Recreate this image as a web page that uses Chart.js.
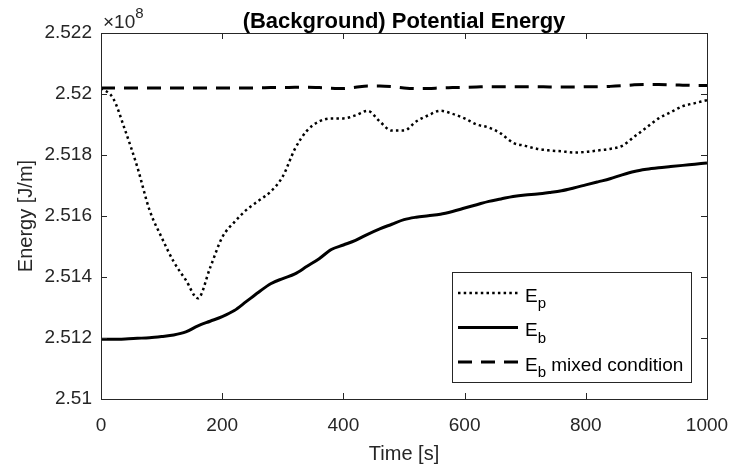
<!DOCTYPE html>
<html>
<head>
<meta charset="utf-8">
<script src="https://cdn.jsdelivr.net/npm/chart.js@4.4.1/dist/chart.umd.min.js"></script>
<style>
    html, body { margin: 0; padding: 0; background: #fff; }
    #wrap { width: 732px; height: 467px; }
</style>
</head>
<body>
<div id="wrap"><canvas id="energyChart" width="732" height="467"></canvas></div>
<script>
// data (values in units of 1e8 J/m)
const times = [0, 20, 40, 60, 80, 100, 120, 140, 160, 180, 200, 220, 240, 260, 280, 300, 320, 340, 360, 380,
    400, 420, 440, 460, 480, 500, 520, 540, 560, 580, 600, 620, 640, 660, 680, 700, 720, 740, 760, 780,
    800, 820, 840, 860, 880, 900, 920, 940, 960, 980, 1000];

const epValues = [2.5202, 2.51986, 2.5188, 2.5176, 2.5162, 2.5153, 2.5145, 2.5139, 2.5133, 2.5143,
    2.5153, 2.5158, 2.5162, 2.5165, 2.5168, 2.5173, 2.5182, 2.5188, 2.5191, 2.5192,
    2.5192, 2.5193, 2.51945, 2.5191, 2.5188, 2.5188, 2.5191, 2.5193, 2.51945, 2.51935,
    2.5192, 2.519, 2.5189, 2.5187, 2.5184, 2.5183, 2.5182, 2.51815, 2.51812, 2.51808,
    2.5181, 2.51815, 2.5182, 2.5183, 2.5186, 2.5189, 2.5192, 2.5194, 2.5196, 2.5197, 2.5198];

const ebValues = [2.51196, 2.51196, 2.51197, 2.51199, 2.51201, 2.51205, 2.5121, 2.5122, 2.5124, 2.51255,
    2.5127, 2.5129, 2.5132, 2.5135, 2.51378, 2.51395, 2.5141, 2.51435, 2.5146, 2.5149,
    2.51505, 2.5152, 2.5154, 2.51558, 2.51573, 2.51588, 2.51596, 2.51601, 2.51606, 2.51615,
    2.51626, 2.51637, 2.51648, 2.51656, 2.51664, 2.51669, 2.51672, 2.51677, 2.51683, 2.51692,
    2.51702, 2.51712, 2.51722, 2.51735, 2.51746, 2.51753, 2.51758, 2.51762, 2.51766, 2.5177, 2.51774];

const ebMixedValues = [2.5202, 2.5202, 2.5202, 2.5202, 2.5202, 2.5202, 2.5202, 2.5202, 2.5202, 2.5202,
    2.5202, 2.5202, 2.5202, 2.5202, 2.52021, 2.52021, 2.52022, 2.52022, 2.52021, 2.52019,
    2.52018, 2.52022, 2.52026, 2.52026, 2.52024, 2.5202, 2.52018, 2.52018, 2.5202, 2.52021,
    2.52022, 2.52023, 2.52024, 2.52024, 2.52024, 2.52024, 2.52024, 2.52023, 2.52023, 2.52023,
    2.52024, 2.52024, 2.52025, 2.52027, 2.5203, 2.52031, 2.52031, 2.5203, 2.52029, 2.52028, 2.52028];

const xTicks = [0, 200, 400, 600, 800, 1000];
const yTicks = [2.51, 2.512, 2.514, 2.516, 2.518, 2.52, 2.522];

const AXIS_COLOR = '#262626';
const FONT = 'Arial, "Liberation Sans", Helvetica, sans-serif';

function toPoints(vals) {
    return times.map((t, i) => ({ x: t, y: vals[i] }));
}

const seriesInfo = [
    { label: 'E', sub: 'p', rest: '', data: epValues, width: 2.5, dash: [2.5, 3.2] },
    { label: 'E', sub: 'b', rest: '', data: ebValues, width: 3, dash: [] },
    { label: 'E', sub: 'b', rest: ' mixed condition', data: ebMixedValues, width: 3, dash: [14, 9] }
];

// box, inner ticks, title, exponent and legend drawn MATLAB style
const matlabAxes = {
    id: 'matlabAxes',
    afterDatasetsDraw(chart) {
        const ctx = chart.ctx;
        const area = chart.chartArea;
        const xs = chart.scales.x, ys = chart.scales.y;
        const tl = 6;
        ctx.save();
        ctx.strokeStyle = AXIS_COLOR;
        ctx.lineWidth = 1;
        ctx.beginPath();
        xTicks.forEach(v => {
            const px = Math.round(xs.getPixelForValue(v)) + 0.5;
            ctx.moveTo(px, area.bottom); ctx.lineTo(px, area.bottom - tl);
            ctx.moveTo(px, area.top); ctx.lineTo(px, area.top + tl);
        });
        yTicks.forEach(v => {
            const py = Math.round(ys.getPixelForValue(v)) + 0.5;
            ctx.moveTo(area.left, py); ctx.lineTo(area.left + tl, py);
            ctx.moveTo(area.right, py); ctx.lineTo(area.right - tl, py);
        });
        ctx.stroke();
        ctx.strokeRect(Math.round(area.left) + 0.5, Math.round(area.top) + 0.5,
            Math.round(area.right - area.left), Math.round(area.bottom - area.top));

        // title
        ctx.fillStyle = '#000';
        ctx.font = 'bold 22px ' + FONT;
        ctx.textAlign = 'center';
        ctx.textBaseline = 'alphabetic';
        ctx.fillText('(Background) Potential Energy', (area.left + area.right) / 2, 28);

        // exponent label
        ctx.fillStyle = AXIS_COLOR;
        ctx.textAlign = 'left';
        ctx.font = '19px ' + FONT;
        ctx.fillText('\u00d710', area.left + 2, 28);
        const w = ctx.measureText('\u00d710').width;
        ctx.font = '15px ' + FONT;
        ctx.fillText('8', area.left + 2 + w, 18);

        // legend
        const bx = 452, by = 272, bw = 239, bh = 110;
        ctx.fillStyle = '#fff';
        ctx.fillRect(bx, by, bw, bh);
        ctx.strokeStyle = AXIS_COLOR;
        ctx.strokeRect(bx + 0.5, by + 0.5, bw, bh);
        const rows = [293, 327.5, 362];
        seriesInfo.forEach((s, i) => {
            const ry = rows[i];
            ctx.strokeStyle = '#000';
            ctx.lineWidth = s.width;
            ctx.setLineDash(s.dash);
            ctx.beginPath();
            ctx.moveTo(bx + 6, ry);
            ctx.lineTo(bx + 66, ry);
            ctx.stroke();
            ctx.setLineDash([]);
            ctx.fillStyle = '#000';
            let tx = bx + 73;
            ctx.font = '19px ' + FONT;
            ctx.fillText(s.label, tx, ry + 8.5);
            tx += ctx.measureText(s.label).width;
            ctx.font = '15px ' + FONT;
            ctx.fillText(s.sub, tx, ry + 15);
            tx += ctx.measureText(s.sub).width;
            if (s.rest) {
                ctx.font = '19px ' + FONT;
                ctx.fillText(s.rest, tx, ry + 8.5);
            }
        });
        ctx.restore();
    }
};

new Chart(document.getElementById('energyChart'), {
    type: 'line',
    data: {
        datasets: seriesInfo.map(s => ({
            label: s.label + s.sub + s.rest,
            data: toPoints(s.data),
            borderColor: '#000',
            borderWidth: s.width,
            borderDash: s.dash,
            pointRadius: 0,
            fill: false,
            cubicInterpolationMode: 'monotone'
        }))
    },
    options: {
        responsive: false,
        animation: false,
        events: [],
        layout: { padding: { top: 33, right: 25, left: 0, bottom: 0 } },
        plugins: {
            legend: { display: false },
            title: { display: false },
            tooltip: { enabled: false }
        },
        scales: {
            x: {
                type: 'linear',
                min: 0,
                max: 1000,
                afterBuildTicks: s => { s.ticks = xTicks.map(v => ({ value: v })); },
                afterFit: s => { s.height = 68; s.paddingLeft = 0; s.paddingRight = 0; },
                grid: { display: false, drawTicks: false },
                border: { display: false },
                ticks: {
                    color: AXIS_COLOR,
                    font: { family: FONT, size: 19 },
                    padding: 15,
                    maxRotation: 0,
                    callback: v => String(v)
                },
                title: {
                    display: true,
                    text: 'Time [s]',
                    color: AXIS_COLOR,
                    font: { family: FONT, size: 20 },
                    padding: { top: 0, bottom: 1 }
                }
            },
            y: {
                type: 'linear',
                min: 2.51,
                max: 2.522,
                afterBuildTicks: s => { s.ticks = yTicks.map(v => ({ value: v })); },
                afterFit: s => { s.width = 101; s.paddingTop = 0; s.paddingBottom = 0; },
                grid: { display: false, drawTicks: false },
                border: { display: false },
                ticks: {
                    color: AXIS_COLOR,
                    font: { family: FONT, size: 19 },
                    padding: 9,
                    callback: v => String(Number(v.toFixed(3)))
                },
                title: {
                    display: true,
                    text: 'Energy [J/m]',
                    color: AXIS_COLOR,
                    font: { family: FONT, size: 20 },
                    padding: { top: 14, bottom: 0 }
                }
            }
        }
    },
    plugins: [matlabAxes]
});
</script>
</body>
</html>
